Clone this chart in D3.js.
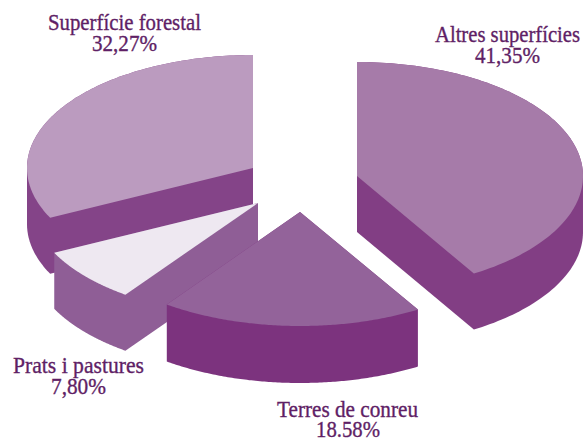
<!DOCTYPE html>
<html><head><meta charset="utf-8">
<style>html,body{margin:0;padding:0;background:#fff;overflow:hidden}svg{display:block}</style>
<script src="https://cdn.jsdelivr.net/npm/d3@7"></script>
</head><body><svg id="c" width="583" height="438"></svg>
<script>
// Data, clockwise from twelve o'clock
const categories = ["Altres superfícies", "Terres de conreu", "Prats i pastures", "Superfície forestal"];
const values = [41.35, 18.58, 7.80, 32.27];
const valueLabels = ["41,35%", "18.58%", "7,80%", "32,27%"];
// Styling and layout, by category
const topColors = ["#a67ba9", "#93639a", "#eee8f1", "#bb9bbf"];
const wallColors = ["#823e84", "#7c337e", "#8f5e96", "#844488"];
const centers = [[357, 176], [300, 212], [258, 203], [253, 168]];
const radiiX = [226, 228, 227, 226];
const radiiY = [114, 114, 113, 113];
const depths = [56, 57, 56, 56];
const drawOrder = [3, 0, 2, 1];
const labelBoxes = [[435, 580, 42, 475, 540, 63], [277, 418, 417, 316, 380, 437], [13, 144, 373, 51, 106, 394], [48, 201, 30, 92, 157, 51]];

const svg = d3.select("#c");
const arcs = d3.pie().sort(null).startAngle(0).endAngle(2 * Math.PI)(values);
const line = d3.line();

drawOrder.forEach(i => {
  const c = centers[i], a = arcs[i], rx = radiiX[i], ry = radiiY[i], depth = depths[i];
  const rim = d3.range(0, 121).map(k => {
    const t = a.startAngle + (a.endAngle - a.startAngle) * k / 120;
    return [c[0] + rx * Math.sin(t), c[1] - ry * Math.cos(t)];
  });
  const top = [c].concat(rim);
  const g = svg.append("g");
  // the extruded slice's silhouette is the hull of the top face and its copy at the bottom
  const hull = d3.polygonHull(top.concat(top.map(p => [p[0], p[1] + depth])));
  g.append("path").attr("d", line(hull) + "Z").attr("fill", wallColors[i]);
  g.append("path").attr("d", line(top) + "Z").attr("fill", topColors[i]);
});

categories.forEach((name, i) => {
  const b = labelBoxes[i];
  [[name, b[0], b[1], b[2]], [valueLabels[i], b[3], b[4], b[5]]].forEach(t => {
    svg.append("text").text(t[0])
      .attr("x", t[1]).attr("y", t[3])
      .attr("textLength", t[2] - t[1]).attr("lengthAdjust", "spacingAndGlyphs")
      .attr("font-family", "'Liberation Serif', serif").attr("font-size", 23)
      .attr("fill", "#5f1f66").attr("stroke", "#5f1f66").attr("stroke-width", 0.35);
  });
});
</script></body></html>
